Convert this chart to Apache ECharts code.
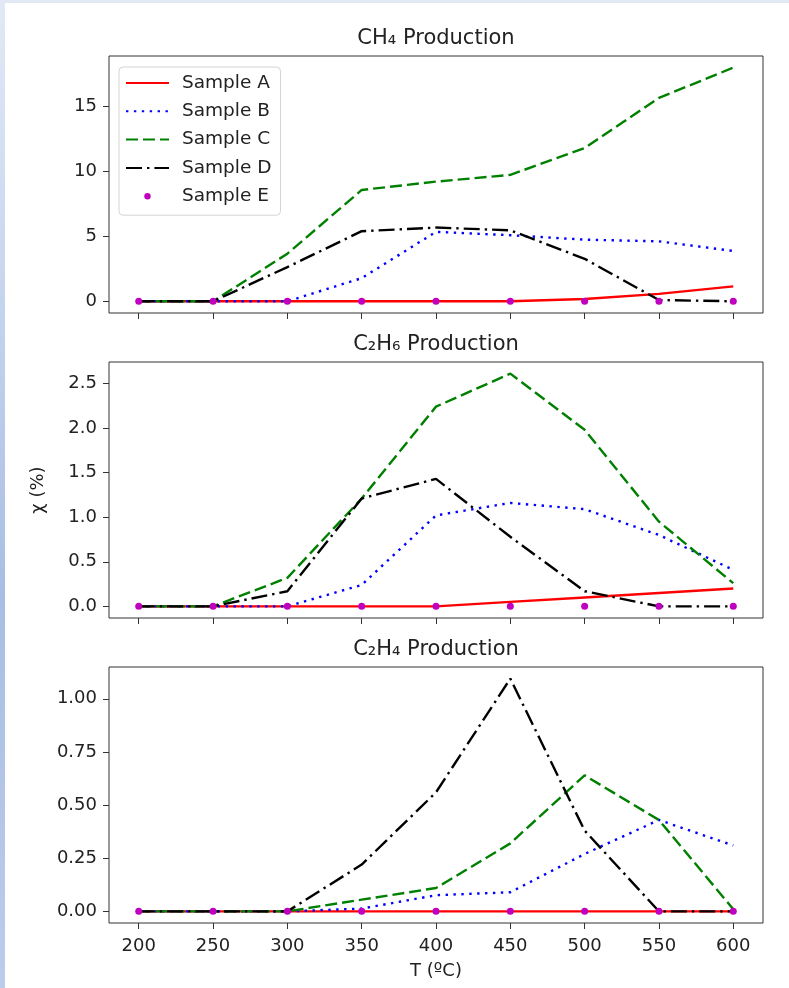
<!DOCTYPE html>
<html>
<head>
<meta charset="utf-8">
<title>Production</title>
<script src="https://cdn.jsdelivr.net/npm/echarts@6/dist/echarts.min.js"></script>
<style>
  html, body { margin: 0; padding: 0; background: #fff; }
  #edgeTop { position: absolute; left: 0; top: 0; width: 789px; height: 3px; background: #e1e9f6; }
  #edgeLeft { position: absolute; left: 0; top: 0; width: 5px; height: 988px;
    background: linear-gradient(to bottom, #e1e9f6 0%, #c6d5ee 30%, #a9bee4 60%, #bccdeb 100%); }
  #chart { position: absolute; left: 0; top: 0; width: 789px; height: 988px; }
</style>
</head>
<body>
<div id="edgeTop"></div>
<div id="edgeLeft"></div>
<div id="chart"></div>
<script>
const temps = [200, 250, 300, 350, 400, 450, 500, 550, 600];
const sampleNames = ["Sample A", "Sample B", "Sample C", "Sample D", "Sample E"];

// CH4
const ch4A = [0, 0, 0, 0, 0, 0, 0.18, 0.57, 1.15];
const ch4B = [0, 0, 0, 1.78, 5.34, 5.08, 4.74, 4.61, 3.87];
const ch4C = [0, 0, 3.66, 8.56, 9.2, 9.72, 11.78, 15.64, 17.96];
const ch4D = [0, 0, 2.63, 5.39, 5.67, 5.46, 3.27, 0.1, 0];
const ch4E = [0, 0, 0, 0, 0, 0, 0, 0, 0];

// C2H6
const c2h6A = [0, 0, 0, 0, 0, 0.05, 0.1, 0.15, 0.2];
const c2h6B = [0, 0, 0, 0.24, 1.02, 1.16, 1.09, 0.8, 0.41];
const c2h6C = [0, 0, 0.32, 1.21, 2.24, 2.61, 1.98, 0.95, 0.26];
const c2h6D = [0, 0, 0.17, 1.21, 1.43, 0.78, 0.17, 0, 0];
const c2h6E = [0, 0, 0, 0, 0, 0, 0, 0, 0];

// C2H4
const c2h4A = [0, 0, 0, 0, 0, 0, 0, 0, 0];
const c2h4B = [0, 0, 0, 0.013, 0.076, 0.09, 0.27, 0.43, 0.31];
const c2h4C = [0, 0, 0, 0.055, 0.11, 0.32, 0.64, 0.43, 0.01];
const c2h4D = [0, 0, 0, 0.22, 0.56, 1.095, 0.38, 0, 0];
const c2h4E = [0, 0, 0, 0, 0, 0, 0, 0, 0];

const xTicks = [200, 250, 300, 350, 400, 450, 500, 550, 600];
const ch4Ticks = [0, 5, 10, 15];
const c2h6Ticks = [0, 0.5, 1, 1.5, 2, 2.5];
const c2h4Ticks = [0, 0.25, 0.5, 0.75, 1];

const titles = ["CH₄ Production", "C₂H₆ Production", "C₂H₄ Production"];

const font = "DejaVu Sans";
const textColor = "#222";
const tickFont = 18;

const panels = [
  { sets: [ch4A, ch4B, ch4C, ch4D, ch4E], ticks: ch4Ticks, digits: 0, top: 56, height: 257 },
  { sets: [c2h6A, c2h6B, c2h6C, c2h6D, c2h6E], ticks: c2h6Ticks, digits: 1, top: 362, height: 256 },
  { sets: [c2h4A, c2h4B, c2h4C, c2h4D, c2h4E], ticks: c2h4Ticks, digits: 2, top: 667, height: 256 },
];

const lineStyles = [
  { color: "#ff0000", type: "solid" },
  { color: "#0000ff", type: [2.4, 5.5] },
  { color: "#008000", type: [12, 5] },
  { color: "#000000", type: [16, 5, 2.4, 5] },
];

let myChart = echarts.init(document.getElementById("chart"));

const grid = [];
const xAxis = [];
const yAxis = [];
const series = [];
const title = [];

panels.forEach((p, gi) => {
  const all = [].concat(...p.sets);
  const lo = Math.min(...all), hi = Math.max(...all);
  const pad = (hi - lo) * 0.05;
  const last = gi === panels.length - 1;

  grid.push({
    left: 109, right: 26, top: p.top, height: p.height,
    show: true, borderColor: "#333", borderWidth: 1, backgroundColor: "transparent",
  });
  title.push({
    text: titles[gi], left: 436, top: p.top - 28, textAlign: "center", padding: 0,
    textStyle: { fontFamily: font, fontSize: 21, fontWeight: "normal", color: textColor },
  });
  xAxis.push({
    type: "value", gridIndex: gi, min: 180, max: 620,
    axisLine: { show: false, onZero: false },
    splitLine: { show: false },
    axisTick: { show: true, length: 6, customValues: xTicks, lineStyle: { color: "#333" } },
    axisLabel: {
      show: last, customValues: xTicks, margin: 14,
      fontFamily: font, fontSize: tickFont, color: textColor,
    },
    name: last ? "T (ºC)" : "",
    nameLocation: "middle", nameGap: 39,
    nameTextStyle: { fontFamily: font, fontSize: tickFont, color: textColor },
  });
  yAxis.push({
    type: "value", gridIndex: gi, min: lo - pad, max: hi + pad,
    axisLine: { show: false, onZero: false },
    splitLine: { show: false },
    axisTick: { show: true, length: 6, customValues: p.ticks, lineStyle: { color: "#333" } },
    axisLabel: {
      customValues: p.ticks, margin: 12,
      formatter: (v) => v.toFixed(p.digits),
      fontFamily: font, fontSize: tickFont, color: textColor,
    },
    name: gi === 1 ? "χ (%)" : "",
    nameLocation: "middle", nameGap: 62, nameRotate: 90,
    nameTextStyle: { fontFamily: font, fontSize: tickFont, color: textColor },
  });

  p.sets.forEach((vals, si) => {
    const data = temps.map((t, i) => [t, vals[i]]);
    if (si < 4) {
      series.push({
        name: sampleNames[si], type: "line", xAxisIndex: gi, yAxisIndex: gi,
        data: data, symbol: "none",
        lineStyle: { color: lineStyles[si].color, width: 2.4, type: lineStyles[si].type, cap: "butt" },
        itemStyle: { color: lineStyles[si].color },
      });
    } else {
      series.push({
        name: sampleNames[si], type: "line", xAxisIndex: gi, yAxisIndex: gi,
        data: data, symbol: "circle", symbolSize: 7, showSymbol: true,
        lineStyle: { width: 0, opacity: 0 },
        itemStyle: { color: "#bf00bf" },
      });
    }
  });
});

const legendData = sampleNames.map((n, i) =>
  i < 4 ? { name: n, itemStyle: { opacity: 0 } } : { name: n }
);

myChart.setOption({
  animation: false,
  title: title,
  grid: grid,
  xAxis: xAxis,
  yAxis: yAxis,
  legend: {
    data: legendData, orient: "vertical", left: 119, top: 67,
    itemWidth: 43, itemHeight: 8, itemGap: 9.3,
    padding: [6.5, 9, 9.5, 6],
    selectedMode: false,
    backgroundColor: "rgba(255,255,255,0.8)",
    borderColor: "#d4d4d4", borderWidth: 1, borderRadius: 4,
    textStyle: { fontFamily: font, fontSize: 18.5, color: textColor, padding: [0, 0, 0, 8] },
  },
  series: series,
});
</script>
</body>
</html>
